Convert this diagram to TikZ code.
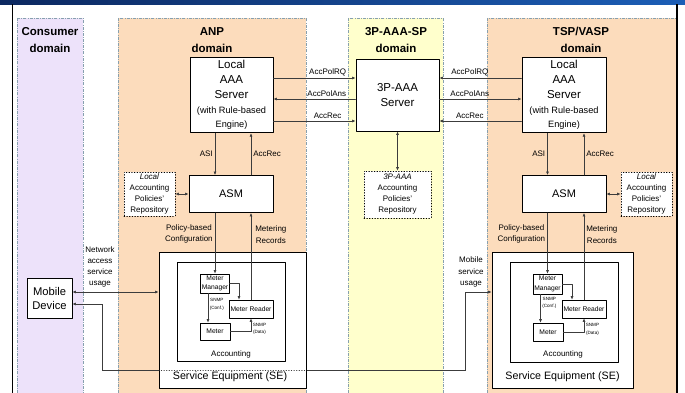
\documentclass[tikz,border=0pt]{standalone}
\usepackage{fontspec}
\setmainfont{Liberation Sans}
\usetikzlibrary{arrows.meta}
\definecolor{consumerbg}{RGB}{237,226,250}
\definecolor{peachbg}{RGB}{252,220,188}
\definecolor{yellowbg}{RGB}{255,255,204}
\definecolor{domainedge}{RGB}{135,160,175}
\definecolor{barleft}{RGB}{12,40,96}
\definecolor{barright}{RGB}{28,94,182}
\definecolor{wiregray}{RGB}{60,60,60}
\newcommand{\fsz}[2]{\fontsize{#1}{#2}\selectfont}
\pgfdeclarelayer{back}
\pgfdeclarelayer{wire}
\pgfsetlayers{back,wire,main}

\begin{document}
\begin{tikzpicture}[x=1pt,y=-1pt,line cap=round,line join=round,
  domainbox/.style={draw=domainedge,line width=0.6pt,dash pattern=on 3pt off 1.2pt on 0.8pt off 1.2pt},
  dtitle/.style={font=\fsz{11.5}{16.5}\bfseries,align=center},
  srvbox/.style={draw,line width=0.9pt,fill=white,align=center,font=\fsz{11.5}{15},minimum width=83pt,minimum height=72pt},
  asmbox/.style={draw,line width=0.9pt,fill=white,font=\fsz{11}{13},minimum width=84pt,minimum height=37pt},
  repobox/.style={draw,dotted,line width=0.7pt,fill=white,align=center,font=\fsz{8}{11},minimum width=51pt,minimum height=44pt,inner sep=1pt},
  sebox/.style={draw,line width=0.8pt,fill=white,minimum height=136pt},
  accbox/.style={draw,line width=0.8pt,fill=white,minimum width=108pt,minimum height=99pt},
  meterbox/.style={draw,line width=0.7pt,fill=white,align=center,font=\fsz{6.7}{9.5},inner sep=1pt},
  mobbox/.style={draw,line width=0.8pt,fill=white,align=center,font=\fsz{11.2}{14},minimum width=45pt,minimum height=40pt},
  lbl/.style={font=\fsz{8}{11.2},align=center,inner sep=2pt},
  tinylbl/.style={font=\fsz{4.6}{7.5},align=center,inner sep=1.5pt},
  wire/.style={draw=wiregray,line width=0.6pt},
  arr/.style={wire,-{Latex[length=3.5pt,width=3pt]}},
  dbl/.style={wire,{Latex[length=3.5pt,width=3pt]}-{Latex[length=3.5pt,width=3pt]}}
]
\useasboundingbox (0,0) rectangle (685,393);
% domains and frame
\begin{pgfonlayer}{back}
\fill[white] (0,0) rectangle (685,393);
\draw[domainbox,fill=consumerbg] (17,18) rectangle (83,400);
\draw[domainbox,fill=peachbg] (118,18) rectangle (306,400);
\draw[domainbox,fill=yellowbg] (348,18) rectangle (443,400);
\draw[domainbox,fill=peachbg] (487,18) rectangle (676,400);
\shade[left color=barleft,right color=barright] (0,0) rectangle (685,4.5);
\draw[line width=1.6pt] (12.5,4.5) -- (12.5,400);
\draw[line width=1.4pt] (676.8,4.5) -- (676.8,400);
\end{pgfonlayer}

\node[dtitle] (tcons) at (50,40) {Consumer\\domain};
\node[dtitle] (tanp) at (212,40) {ANP\\domain};
\node[dtitle] (ttp) at (396,40) {3P-AAA-SP\\domain};
\node[dtitle] (ttsp) at (581,40) {TSP/VASP\\domain};

% servers
\node[srvbox] (lsrv) at (231.5,95) {Local\\AAA\\Server\\\fsz{9.2}{12}(with Rule-based\\[-1.5pt]\fsz{9.2}{12}Engine)};
\node[srvbox] (tpsrv) at (397.5,95) {3P-AAA\\Server};
\node[srvbox,minimum width=84pt] (rsrv) at (564,95) {Local\\AAA\\Server\\\fsz{9.2}{12}(with Rule-based\\[-1.5pt]\fsz{9.2}{12}Engine)};

\node[asmbox] (lasm) at (231,194) {ASM};
\node[asmbox] (rasm) at (564,194) {ASM};

\node[repobox] (lrepo) at (149.5,194) {\textit{Local}\\Accounting\\Policies'\\Repository};
\node[repobox,minimum width=67pt,minimum height=47pt] (tprepo) at (397.5,194.5) {\textit{3P-AAA}\\Accounting\\Policies'\\Repository};
\node[repobox] (rrepo) at (646.5,194) {\textit{Local}\\Accounting\\Policies'\\Repository};

% service equipment
\node[sebox,minimum width=147pt] (lse) at (232.5,320) {};
\node[sebox,minimum width=141pt] (rse) at (562.5,320) {};
\node[accbox] (lacc) at (231,311.5) {};
\node[accbox,minimum height=100pt] (racc) at (564,312) {};
\node[lbl,font=\fsz{8}{10}] (lacctxt) at (231,354) {Accounting};
\node[lbl,font=\fsz{8}{10}] (racctxt) at (563,354) {Accounting};
\node[font=\fsz{10.7}{12}] (lsetxt) at (230,377) {Service Equipment (SE)};
\node[font=\fsz{10.7}{12}] (rsetxt) at (562.5,377) {Service Equipment (SE)};

\node[meterbox,minimum width=28pt,minimum height=19pt] (lmm) at (215,283.5) {Meter\\Manager};
\node[meterbox,minimum width=44pt,minimum height=18pt] (lmr) at (251,309) {Meter Reader};
\node[meterbox,minimum width=30pt,minimum height=17pt] (lmeter) at (215,331.5) {Meter};
\node[meterbox,minimum width=29pt,minimum height=20pt] (rmm) at (547.5,284) {Meter\\Manager};
\node[meterbox,minimum width=44pt,minimum height=18pt] (rmr) at (584,309) {Meter Reader};
\node[meterbox,minimum width=30pt,minimum height=18pt] (rmeter) at (548,332) {Meter};

\node[mobbox] (mob) at (49.5,298) {Mobile\\Device};
\node[lbl] (netlbl) at (100,267) {Network\\access\\service\\usage};
\node[lbl] (moblbl) at (471,272) {Mobile\\service\\usage};

% server to server
\draw[arr] ([yshift=17pt]lsrv.east) -- node[lbl,above,pos=0.66] (lrq) {AccPolRQ} ([yshift=17pt]tpsrv.west);
\draw[arr] ([yshift=-4pt]tpsrv.west) -- node[lbl,above,pos=0.35] (lans) {AccPolAns} ([yshift=-4pt]lsrv.east);
\draw[arr] ([yshift=-26pt]lsrv.east) -- node[lbl,above,pos=0.66] (lrec) {AccRec} ([yshift=-26pt]tpsrv.west);
\draw[arr] ([yshift=17pt]rsrv.west) -- node[lbl,above,pos=0.63] (rrq) {AccPolRQ} ([yshift=17pt]tpsrv.east);
\draw[arr] ([yshift=-4pt]tpsrv.east) -- node[lbl,above,pos=0.37] (rans) {AccPolAns} ([yshift=-4pt]rsrv.west);
\draw[arr] ([yshift=-26pt]rsrv.west) -- node[lbl,above,pos=0.63] (rrec) {AccRec} ([yshift=-26pt]tpsrv.east);

% server and ASM
\draw[arr] (lsrv.south -| lmm.north) -- node[lbl,left] (lasi) {ASI} (lasm.north -| lmm.north);
\draw[arr] (lasm.north -| lmr.north) -- node[lbl,right] (lasmrec) {AccRec} (lsrv.south -| lmr.north);
\draw[arr] (rsrv.south -| rmm.north) -- node[lbl,left] (rasi) {ASI} (rasm.north -| rmm.north);
\draw[arr] (rasm.north -| rmr.north) -- node[lbl,right] (rasmrec) {AccRec} (rsrv.south -| rmr.north);

% repositories
\draw[dbl] (lrepo) -- (lasm);
\draw[dbl] (rasm) -- (rrepo);
\draw[dbl] (tpsrv) -- (tprepo);

% ASM and service equipment
\draw[arr] (lasm.south -| lmm.north) -- node[lbl,left,pos=0.35] (lcfg) {Policy-based\\Configuration} (lmm.north);
\draw[arr] (lmr.north) -- node[lbl,right,pos=0.75,xshift=2pt] (lmrec) {Metering\\Records} (lmr.north |- lasm.south);
\draw[arr] (rasm.south -| rmm.north) -- node[lbl,left,pos=0.35] (rcfg) {Policy-based\\Configuration} (rmm.north);
\draw[arr] (rmr.north) -- node[lbl,right,pos=0.75] (rmrec) {Metering\\Records} (rmr.north |- rasm.south);

% inside the accounting boxes
\draw[arr] ([xshift=-7pt]lmm.south) -- node[tinylbl,right,pos=0.37] (lconf) {SNMP\\(Conf.)} ([xshift=-7pt]lmm.south |- lmeter.north);
\draw[arr] (lmm.east) -| ([xshift=-12pt]lmr.north);
\draw[arr] (lmeter.east) -| node[tinylbl,right,pos=0.6] (ldata) {SNMP\\(Data)} (lmr.south);
\draw[arr] ([xshift=-7pt]rmm.south) -- node[tinylbl,right,pos=0.3] (rconf) {SNMP\\(Conf.)} ([xshift=-7pt]rmm.south |- rmeter.north);
\draw[arr] (rmm.east) -| ([xshift=-12pt]rmr.north);
\draw[arr] (rmeter.east) -| node[tinylbl,right,pos=0.6] (rdata) {SNMP\\(Data)} (rmr.south);

% mobile device
\draw[dbl] ([yshift=6pt]mob.east) -- ([yshift=6pt]mob.east -| lse.west);
\coordinate (retA) at (102,370);
\coordinate (retB) at (465,292);
\begin{pgfonlayer}{wire}
\draw[dbl] ([yshift=-6pt]mob.east) -| (retA) -| (retB) -- (retB -| rse.west);
\end{pgfonlayer}
\draw[wire,dotted] (lse.west |- retA) -- (lse.east |- retA);
\end{tikzpicture}
\end{document}
